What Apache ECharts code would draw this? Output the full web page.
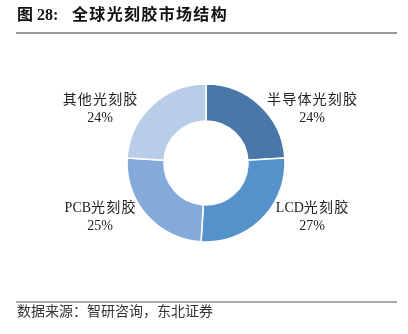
<!DOCTYPE html>
<html>
<head>
<meta charset="utf-8">
<script src="https://cdn.jsdelivr.net/npm/echarts@6/dist/echarts.min.js"></script>
<style>
  html, body { margin: 0; padding: 0; background: #fff; }
  #chart { width: 408px; height: 334px; }
</style>
</head>
<body>
<div id="chart"></div>
<script>
// Global photoresist market structure (share, %)
const categories = ['半导体光刻胶', 'LCD光刻胶', 'PCB光刻胶', '其他光刻胶'];
const shares = [24, 27, 25, 24];
const colors = ['#4877A8', '#5592CA', '#84AADC', '#B8CDE8'];

const titleLead = '图 28:';
const titleText = '全球光刻胶市场结构';
const sourceText = '数据来源：智研咨询，东北证券';

const FONT = '"Liberation Serif", "Noto Sans CJK SC", serif';
const CX = 206, CY = 163;

// spread CJK glyphs slightly, the way a Song typeface sets them (Latin left as is)
const isCJK = ch => /[\u3000-\u9fff\uff00-\uffef]/.test(ch);
const spaced = s => {
  let out = '';
  for (let i = 0; i < s.length; i++) {
    out += s[i];
    if (i < s.length - 1 && isCJK(s[i]) && isCJK(s[i + 1])) out += '\u200A';
  }
  return out;
};

const chart = echarts.init(document.getElementById('chart'), null, { renderer: 'canvas' });

chart.setOption({
  backgroundColor: '#fff',
  animation: false,
  graphic: [
    { type: 'text', left: 17, top: 8,
      style: { text: titleLead, font: 'bold 16px ' + FONT, fill: '#111' } },
    { type: 'text', left: 72, top: 8,
      style: { text: spaced(titleText), font: 'bold 16px ' + FONT, fill: '#111' } },
    { type: 'line', shape: { x1: 16, y1: 33, x2: 397, y2: 33 },
      style: { stroke: '#333', lineWidth: 1 } },
    { type: 'line', shape: { x1: 16, y1: 302, x2: 397, y2: 302 },
      style: { stroke: '#555', lineWidth: 1 } },
    { type: 'text', left: 17, top: 305,
      style: { text: sourceText, font: '14px ' + FONT, fill: '#333' } }
  ],
  series: [{
    type: 'pie',
    center: [CX, CY],
    radius: [42, 79],
    startAngle: 90,
    clockwise: true,
    itemStyle: { borderColor: '#fff', borderWidth: 1.5 },
    label: {
      show: true,
      position: 'outside',
      formatter: p => spaced(p.name) + '\n' + p.value + '%',
      color: '#222',
      fontFamily: FONT,
      fontSize: 14,
      lineHeight: 18,
      align: 'center'
    },
    labelLine: { show: false },
    labelLayout: function (p) {
      const r = p.labelRect;
      const sx = (r.x + r.width / 2) > CX ? 1 : -1;
      const sy = (r.y + r.height / 2) > CY ? 1 : -1;
      return {
        x: CX + sx * 106,
        y: CY + sy * 54,
        align: 'center',
        verticalAlign: 'middle'
      };
    },
    data: categories.map((c, i) => ({
      name: c, value: shares[i], itemStyle: { color: colors[i] }
    }))
  }]
});
</script>
</body>
</html>
